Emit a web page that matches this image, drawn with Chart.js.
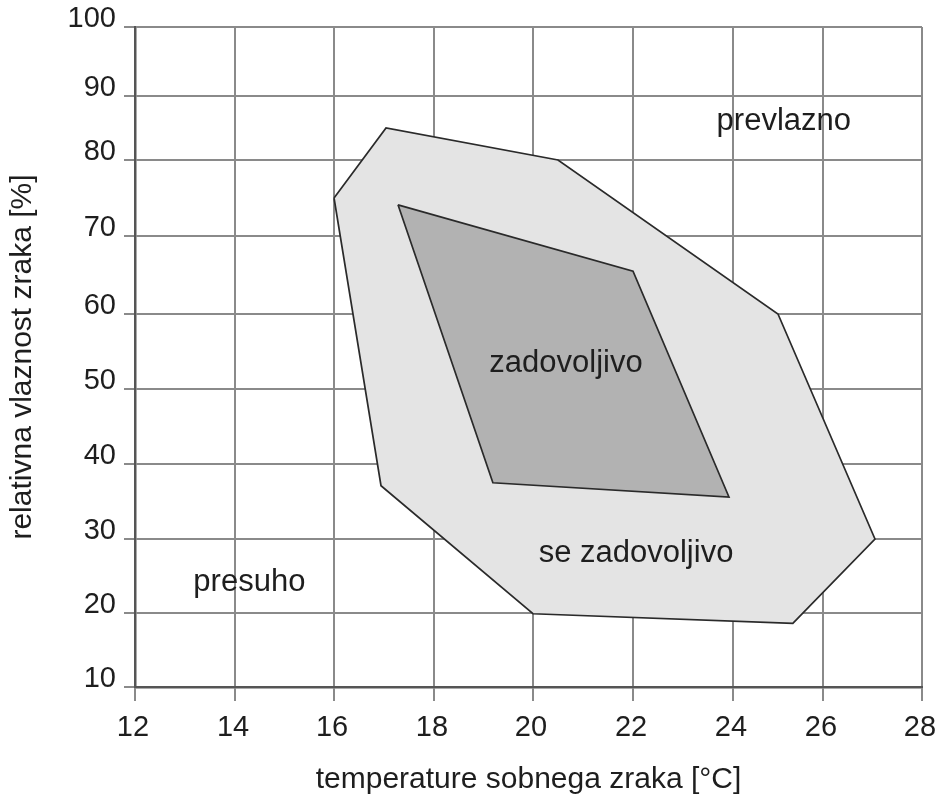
<!DOCTYPE html>
<html>
<head>
<meta charset="utf-8">
<script src="https://cdn.jsdelivr.net/npm/chart.js@4.4.1/dist/chart.umd.min.js"></script>
<style>
  html, body { margin: 0; padding: 0; background: #ffffff; }
  #wrap { width: 942px; height: 800px; }
</style>
</head>
<body>
<div id="wrap"><canvas id="c" width="942" height="800"></canvas></div>
<script>
// ---------- DATA ----------
const xTicks = [12, 14, 16, 18, 20, 22, 24, 26, 28];            // temperature [°C]
const yTicks = [10, 20, 30, 40, 50, 60, 70, 80, 90, 100];       // relative humidity [%]

// outer zone "se zadovoljivo" (polygon vertices)
const outerTemp = [16.0, 17.04, 20.5, 25.0, 27.05, 25.33, 20.0, 16.94];
const outerRH   = [75.0, 85.0, 80.0, 60.0, 30.0, 18.6, 19.9, 37.1];

// inner zone "zadovoljivo" (polygon vertices)
const innerTemp = [17.28, 22.0, 23.92, 19.19];
const innerRH   = [74.1, 65.5, 35.6, 37.5];

// region labels
const regionNames = ['prevlazno', 'zadovoljivo', 'se zadovoljivo', 'presuho'];
const regionTemp  = [25.13, 20.66, 22.06, 14.29];
const regionRH    = [84.7, 52.3, 26.9, 23.0];

// ---------- scale geometry of the drawn (hand-made) grid ----------
const xGridFractions = [0, 0.1271, 0.2529, 0.3799, 0.5057, 0.6328, 0.7598, 0.8742, 1];
const yGridFractions = [0, 0.1121, 0.2242, 0.3379, 0.4515, 0.5652, 0.6833, 0.7985, 0.8955, 1];

class PiecewiseScale extends Chart.LinearScale {
  _toFrac(v) {
    const vals = this.options.breakValues, fr = this.options.breakFractions;
    if (!vals || !fr) return (v - this._startValue) / this._valueRange;
    const n = vals.length;
    if (v <= vals[0]) return fr[0] + (v - vals[0]) * (fr[1] - fr[0]) / (vals[1] - vals[0]);
    for (let i = 1; i < n; i++) {
      if (v <= vals[i]) {
        return fr[i - 1] + (v - vals[i - 1]) * (fr[i] - fr[i - 1]) / (vals[i] - vals[i - 1]);
      }
    }
    return fr[n - 1] + (v - vals[n - 1]) * (fr[n - 1] - fr[n - 2]) / (vals[n - 1] - vals[n - 2]);
  }
  _fromFrac(d) {
    const vals = this.options.breakValues, fr = this.options.breakFractions;
    if (!vals || !fr) return this._startValue + d * this._valueRange;
    const n = vals.length;
    for (let i = 1; i < n; i++) {
      if (d <= fr[i] || i === n - 1) {
        return vals[i - 1] + (d - fr[i - 1]) * (vals[i] - vals[i - 1]) / (fr[i] - fr[i - 1]);
      }
    }
  }
  getPixelForValue(value) {
    if (value === null || value === undefined || isNaN(value)) return NaN;
    return this.getPixelForDecimal(this._toFrac(value));
  }
  getValueForPixel(pixel) {
    return this._fromFrac(this.getDecimalForPixel(pixel));
  }
}
PiecewiseScale.id = 'piecewise';
PiecewiseScale.defaults = Chart.LinearScale.defaults;
Chart.register(PiecewiseScale);

// ---------- helpers ----------
function closedPoly(xs, ys) {
  const pts = xs.map((x, i) => ({ x: x, y: ys[i] }));
  pts.push({ x: xs[0], y: ys[0] });
  return pts;
}

const FONT = "'Liberation Sans', Arial, sans-serif";
const TEXT = '#1e1e1e';
const GRID = '#8a8a8a';
const AXIS = '#555555';

const regionLabels = {
  id: 'regionLabels',
  afterDraw(chart) {
    const { ctx, scales: { x, y } } = chart;
    ctx.save();
    ctx.font = '31px ' + FONT;
    ctx.fillStyle = TEXT;
    ctx.textAlign = 'center';
    ctx.textBaseline = 'alphabetic';
    regionNames.forEach((name, i) => {
      ctx.fillText(name, x.getPixelForValue(regionTemp[i]), y.getPixelForValue(regionRH[i]));
    });
    ctx.restore();
  }
};

new Chart(document.getElementById('c'), {
  type: 'line',
  data: {
    datasets: [
      {
        label: 'se zadovoljivo',
        data: closedPoly(outerTemp, outerRH),
        backgroundColor: '#e4e4e4',
        borderColor: '#2a2a2a',
        borderWidth: 1.7,
        fill: 'shape',
        pointRadius: 0,
        tension: 0,
        borderJoinStyle: 'miter',
        order: 2
      },
      {
        label: 'zadovoljivo',
        data: closedPoly(innerTemp, innerRH),
        backgroundColor: '#b2b2b2',
        borderColor: '#2a2a2a',
        borderWidth: 1.7,
        fill: 'shape',
        pointRadius: 0,
        tension: 0,
        borderJoinStyle: 'miter',
        order: 1
      }
    ]
  },
  options: {
    responsive: false,
    animation: false,
    devicePixelRatio: 1,
    layout: { padding: { top: 27, right: 20, left: 0, bottom: 0 } },
    plugins: {
      legend: { display: false },
      tooltip: { enabled: false },
      title: { display: false }
    },
    scales: {
      x: {
        type: 'piecewise',
        position: 'bottom',
        min: 12, max: 28,
        breakValues: xTicks,
        breakFractions: xGridFractions,
        z: 1,
        afterBuildTicks: s => { s.ticks = xTicks.map(v => ({ value: v })); },
        afterFit: s => { s.height = 113; s.paddingLeft = 0; s.paddingRight = 0; },
        grid: { color: GRID, lineWidth: 2, tickLength: 14, drawTicks: true },
        border: { color: AXIS, width: 2.5 },
        ticks: {
          font: { family: FONT, size: 29 },
          color: TEXT,
          padding: 10,
          labelOffset: -2,
          maxRotation: 0,
          autoSkip: false
        },
        title: {
          display: true,
          text: 'temperature sobnega zraka [°C]',
          font: { family: FONT, size: 30 },
          color: TEXT,
          padding: { top: 0, bottom: 2 }
        }
      },
      y: {
        type: 'piecewise',
        position: 'left',
        min: 10, max: 100,
        breakValues: yTicks,
        breakFractions: yGridFractions,
        z: 1,
        afterBuildTicks: s => { s.ticks = yTicks.map(v => ({ value: v })); },
        afterFit: s => { s.width = 135; s.paddingTop = 0; s.paddingBottom = 0; },
        grid: { color: GRID, lineWidth: 2, tickLength: 11, drawTicks: true },
        border: { color: AXIS, width: 2.5 },
        ticks: {
          font: { family: FONT, size: 29 },
          color: TEXT,
          padding: 8,
          labelOffset: -8,
          autoSkip: false
        },
        title: {
          display: true,
          text: 'relativna vlaznost zraka [%]',
          font: { family: FONT, size: 30 },
          color: TEXT,
          padding: { top: 5, bottom: 0 }
        }
      }
    }
  },
  plugins: [regionLabels]
});
</script>
</body>
</html>
